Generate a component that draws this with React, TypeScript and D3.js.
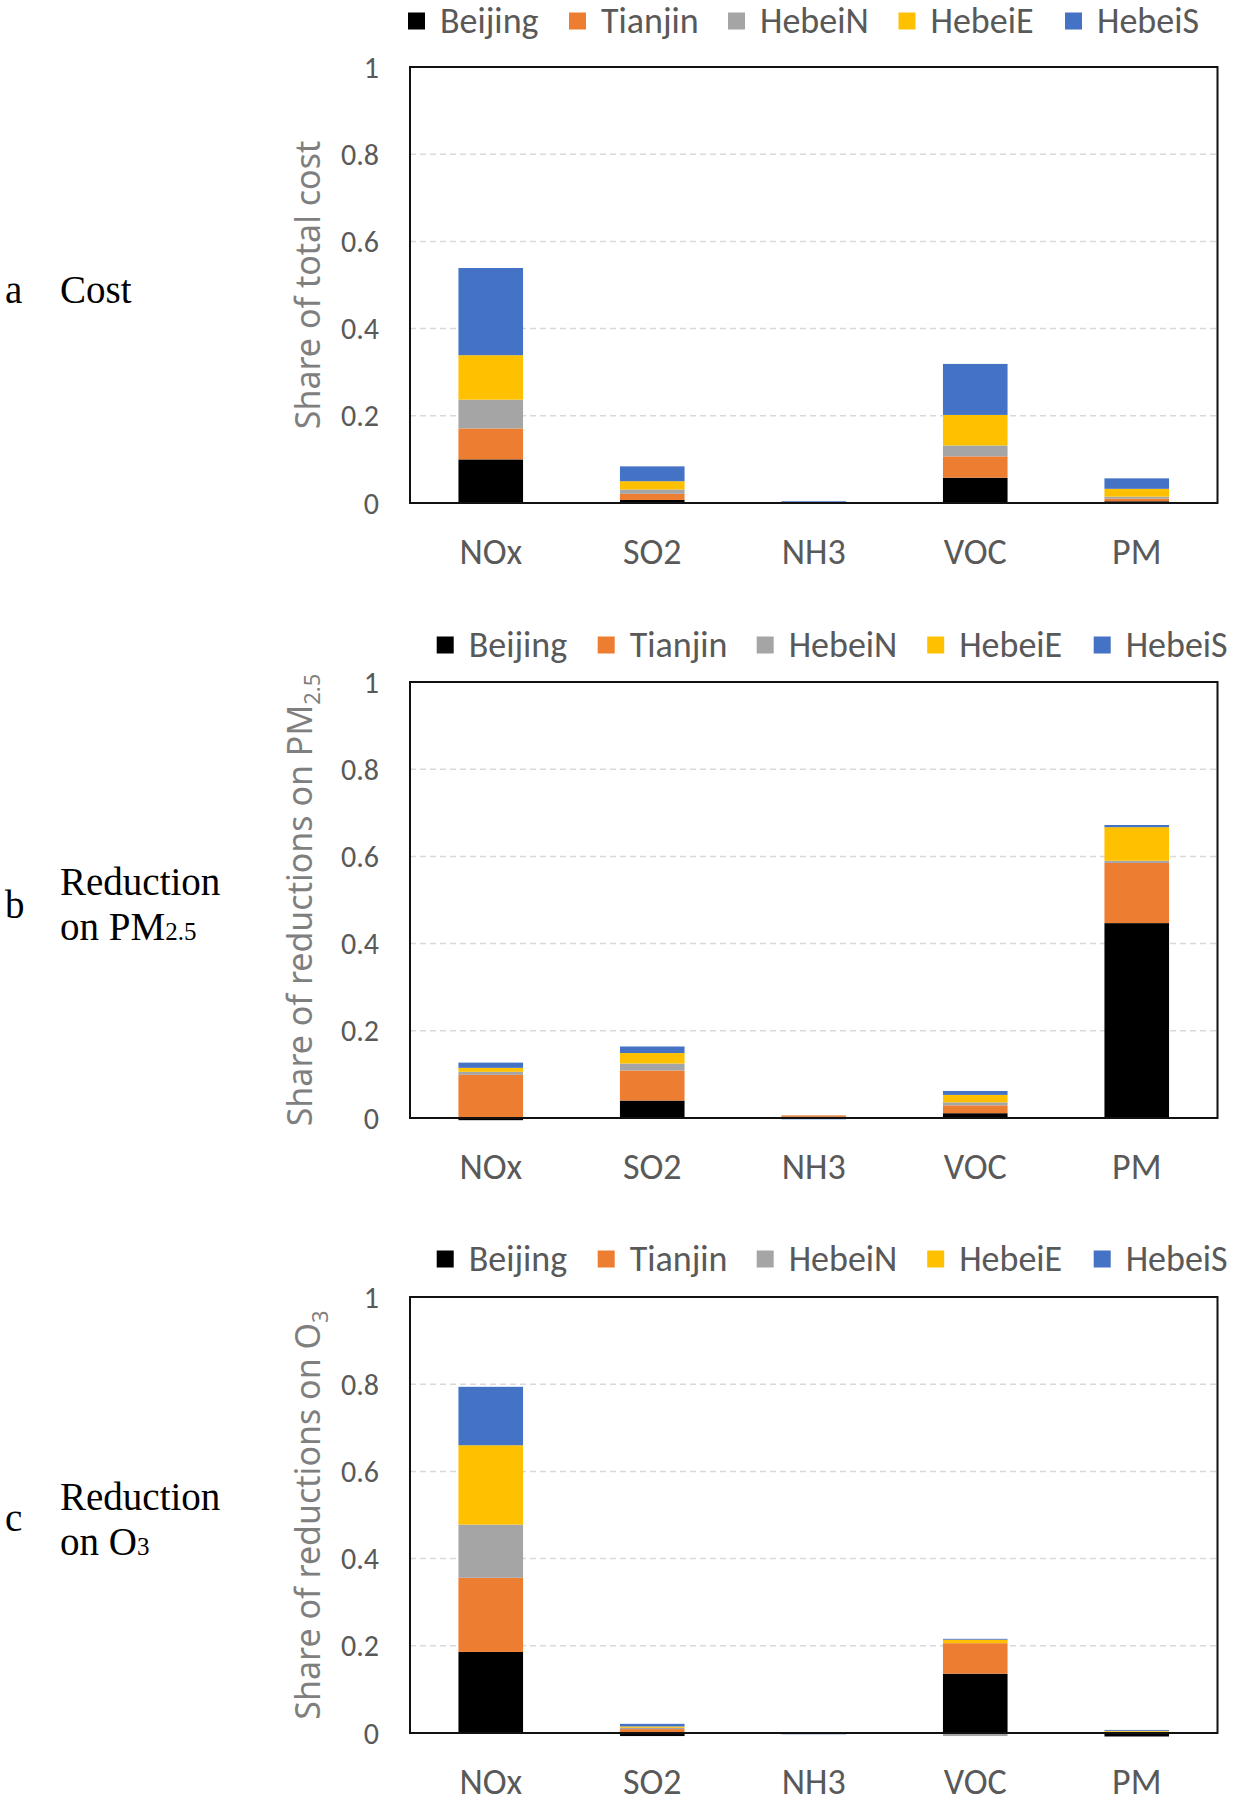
import React from 'react';
import * as d3 from 'd3';

const categories = ['NOx', 'SO2', 'NH3', 'VOC', 'PM'];
const regions = ['Beijing', 'Tianjin', 'HebeiN', 'HebeiE', 'HebeiS'];
const regionColors = ['#000000', '#ED7D31', '#A5A5A5', '#FFC000', '#4472C4'];
const yTicks = [0, 0.2, 0.4, 0.6, 0.8, 1];
const yTickLabels = ['0', '0.2', '0.4', '0.6', '0.8', '1'];

// Panel a: share of total cost (order: NOx, SO2, NH3, VOC, PM)
const costBeijing = [0.100, 0.007, 0.0005, 0.058, 0.004];
const costTianjin = [0.071, 0.014, 0.0005, 0.049, 0.006];
const costHebeiN = [0.066, 0.010, 0.0005, 0.025, 0.0045];
const costHebeiE = [0.102, 0.019, 0.0005, 0.070, 0.018];
const costHebeiS = [0.200, 0.034, 0.002, 0.117, 0.024];

// Panel b: share of reductions on PM2.5
const pmBeijing = [-0.005, 0.040, 0.003, 0.011, 0.447];
const pmTianjin = [0.099, 0.069, 0.003, 0.018, 0.138];
const pmHebeiN = [0.007, 0.016, 0.0, 0.007, 0.005];
const pmHebeiE = [0.009, 0.024, 0.0, 0.017, 0.077];
const pmHebeiS = [0.012, 0.015, -0.003, 0.009, 0.005];

// Panel c: share of reductions on O3
const o3Beijing = [0.186, -0.007, 0.0, 0.136, -0.008];
const o3Tianjin = [0.170, 0.009, 0.0, 0.070, 0.002];
const o3HebeiN = [0.122, 0.003, 0.0, -0.007, 0.001];
const o3HebeiE = [0.182, 0.003, 0.0, 0.008, 0.002];
const o3HebeiS = [0.134, 0.006, -0.003, 0.002, 0.002];

const panelLetters = ['a', 'b', 'c'];

const SANS = 'Calibri, Carlito, Lato, sans-serif';
const TITLE_FONT = '"Noto Sans", "DejaVu Sans", sans-serif';
const SERIF = '"Liberation Serif", "Times New Roman", serif';

const plotLeft = 410;
const plotRight = 1217.5;
const plotH = 436;
const legendOffsets = [0, 161, 320, 490.5, 657];

type PanelProps = {
  values: number[][];
  top: number;
  legendY: number;
  legendX: number;
  titleX: number;
  titleMain: string;
  titleSub: string | null;
};

function Panel({ values, top, legendY, legendX, titleX, titleMain, titleSub }: PanelProps) {
  const x = d3
    .scaleBand<string>()
    .domain(categories)
    .range([plotLeft, plotRight])
    .paddingInner(0.6)
    .paddingOuter(0.3);
  const y = d3.scaleLinear().domain([0, 1]).range([top + plotH, top]);
  const rows = categories.map((c, i) => {
    const r: any = { cat: c };
    regions.forEach((g, j) => {
      r[g] = values[j][i];
    });
    return r;
  });
  const series = d3
    .stack<any>()
    .keys(regions)
    .offset(d3.stackOffsetDiverging)(rows);
  const zeroY = y(0);
  const cy = top + plotH / 2;

  return (
    <g>
      {/* legend */}
      {regions.map((g, i) => (
        <g key={g}>
          <rect
            x={legendX + legendOffsets[i]}
            y={legendY - 8.5}
            width={17}
            height={17}
            fill={regionColors[i]}
          />
          <text
            x={legendX + legendOffsets[i] + 32}
            y={legendY}
            dominantBaseline="central"
            fontFamily={SANS}
            fontSize={36}
            fill="#595959"
          >
            {g}
          </text>
        </g>
      ))}
      {/* gridlines */}
      {yTicks.slice(1, -1).map((t) => (
        <line
          key={t}
          x1={plotLeft}
          x2={plotRight}
          y1={y(t)}
          y2={y(t)}
          stroke="#d9d9d9"
          strokeWidth={1.5}
          strokeDasharray="6,4"
        />
      ))}
      {/* bars */}
      {series.map((s, si) =>
        s.map((d, di) => {
          const y0 = y(d[0]);
          const y1 = y(d[1]);
          return (
            <rect
              key={si + '-' + di}
              x={x(categories[di])}
              width={x.bandwidth()}
              y={Math.min(y0, y1)}
              height={Math.abs(y0 - y1)}
              fill={regionColors[si]}
            />
          );
        })
      )}
      {/* frame */}
      <rect
        x={plotLeft}
        y={top}
        width={plotRight - plotLeft}
        height={plotH}
        fill="none"
        stroke="#111"
        strokeWidth={2}
      />
      <line x1={plotLeft} x2={plotRight} y1={zeroY} y2={zeroY} stroke="#111" strokeWidth={2} />
      {/* y tick labels */}
      {yTicks.map((t, i) => (
        <text
          key={t}
          x={379}
          y={y(t)}
          textAnchor="end"
          dominantBaseline="central"
          fontFamily={SANS}
          fontSize={30}
          fill="#595959"
        >
          {yTickLabels[i]}
        </text>
      ))}
      {/* category labels */}
      {categories.map((c) => (
        <text
          key={c}
          x={(x(c) as number) + x.bandwidth() / 2}
          y={zeroY + 49}
          textAnchor="middle"
          dominantBaseline="central"
          fontFamily={SANS}
          fontSize={36}
          fill="#595959"
        >
          {c}
        </text>
      ))}
      {/* y title */}
      <text
        transform={`translate(${titleX},${cy}) rotate(-90)`}
        textAnchor="middle"
        fontFamily={TITLE_FONT}
        fontSize={34}
        fill="#7f7f7f"
      >
        {titleMain}
        {titleSub ? (
          <tspan fontSize={22} dy={8}>
            {titleSub}
          </tspan>
        ) : null}
      </text>
    </g>
  );
}

export default function App() {
  const costValues = [costBeijing, costTianjin, costHebeiN, costHebeiE, costHebeiS];
  const pmValues = [pmBeijing, pmTianjin, pmHebeiN, pmHebeiE, pmHebeiS];
  const o3Values = [o3Beijing, o3Tianjin, o3HebeiN, o3HebeiE, o3HebeiS];
  return (
    <svg
      width={1237}
      height={1800}
      style={{ position: 'absolute', left: 0, top: 0, background: '#fff' }}
    >
      <rect x={0} y={0} width={1237} height={1800} fill="#fff" />
      <Panel
        values={costValues}
        top={67}
        legendY={21}
        legendX={408}
        titleX={320}
        titleMain="Share of total cost"
        titleSub={null}
      />
      <Panel
        values={pmValues}
        top={682}
        legendY={645}
        legendX={436.7}
        titleX={312}
        titleMain="Share of reductions on PM"
        titleSub="2.5"
      />
      <Panel
        values={o3Values}
        top={1297}
        legendY={1259}
        legendX={436.7}
        titleX={320}
        titleMain="Share of reductions on O"
        titleSub="3"
      />
      {/* left panel labels */}
      <g fontFamily={SERIF} fontSize={39} fill="#000">
        <text x={5} y={303}>{panelLetters[0]}</text>
        <text x={60} y={303}>Cost</text>
        <text x={5} y={918}>{panelLetters[1]}</text>
        <text x={60} y={895}>Reduction</text>
        <text x={60} y={940}>
          on PM<tspan fontSize={25}>2.5</tspan>
        </text>
        <text x={5} y={1531}>{panelLetters[2]}</text>
        <text x={60} y={1510}>Reduction</text>
        <text x={60} y={1555}>
          on O<tspan fontSize={25}>3</tspan>
        </text>
      </g>
    </svg>
  );
}
